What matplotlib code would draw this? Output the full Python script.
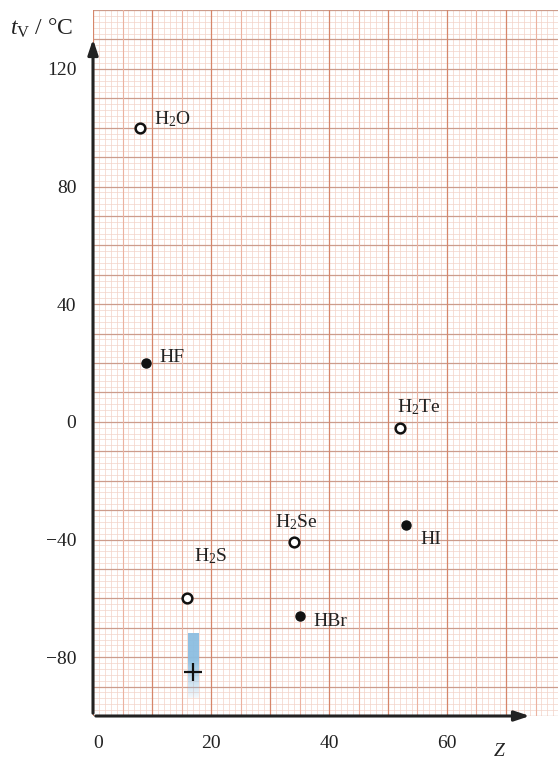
import numpy as np
import matplotlib
matplotlib.use('Agg')
import matplotlib.pyplot as plt

plt.rcParams['font.family'] = ['Liberation Serif', 'DejaVu Serif']
plt.rcParams['mathtext.fontset'] = 'custom'
plt.rcParams['mathtext.rm'] = 'Liberation Serif'
plt.rcParams['mathtext.it'] = 'Liberation Serif:italic'

# dane: Z (liczba atomowa) i temperatura wrzenia
open_names = ['H$_2$O', 'H$_2$S', 'H$_2$Se', 'H$_2$Te']
open_z = [8, 16, 34, 52]
open_t = [100, -60, -41, -2]

full_names = ['HF', 'HBr', 'HI']
full_z = [9, 35, 53]
full_t = [20, -66, -35]

# HCl - szacowany zakres
hcl_z = 17
hcl_range = [-72, -94]
hcl_t = -85

x_ticks = [0, 20, 40, 60]
y_ticks = [120, 80, 40, 0, -40, -80]

fig = plt.figure(figsize=(5.58, 7.61), dpi=100)
ax = fig.add_axes([93 / 558, 45 / 761, 465 / 558, 706 / 761])
ax.set_xlim(0, 465 / 5.9)
ax.set_ylim(-100, 140)
for s in ax.spines.values():
    s.set_visible(False)

# papier milimetrowy
for y in np.arange(-100, 141, 2):
    if y % 10 != 0:
        ax.axhline(y, color='#f1d5cb', lw=0.5, zorder=0)
for x in np.arange(0, 80, 1):
    if x % 5 != 0:
        ax.axvline(x, color='#f4d2c6', lw=0.5, zorder=0)
for y in np.arange(-100, 141, 10):
    ax.axhline(y, color='#cc9c8c', lw=0.9, zorder=1)
for x in np.arange(0, 80, 5):
    if x % 10 == 0:
        ax.axvline(x, color='#d6866a', lw=0.9, zorder=1)
    else:
        ax.axvline(x, color='#ecb2a0', lw=0.8, zorder=1)

# osie ze strzalkami
ax.annotate('', xy=(74.5, -100), xytext=(0, -100),
            arrowprops=dict(arrowstyle='-|>,head_length=0.9,head_width=0.3', color='#222222', lw=2.2),
            annotation_clip=False, zorder=5)
ax.annotate('', xy=(0, 131), xytext=(0, -100),
            arrowprops=dict(arrowstyle='-|>,head_length=0.9,head_width=0.3', color='#222222', lw=2.2),
            annotation_clip=False, zorder=5)

ax.set_xticks(x_ticks)
ax.set_xticklabels([str(v) for v in x_ticks])
ax.set_yticks(y_ticks)
ax.set_yticklabels(['\u2212' + str(-v) if v < 0 else str(v) for v in y_ticks])
ax.tick_params(length=0, labelsize=14, colors='#222222')
ax.tick_params(axis='x', pad=14)
ax.tick_params(axis='y', pad=12)
for lab in ax.get_xticklabels():
    lab.set_horizontalalignment('left' if lab.get_text() == '0' else 'center')

# pasek HCl
grad = np.zeros((100, 1, 4))
grad[:, 0, :3] = np.array([140, 190, 225]) / 255
grad[:, 0, 3] = np.concatenate([np.full(40, 0.95), np.linspace(0.95, 0.1, 60)])
ax.imshow(grad, extent=[hcl_z - 0.85, hcl_z + 0.85, hcl_range[1], hcl_range[0]],
          origin='upper', aspect='auto', zorder=2)
ax.set_xlim(0, 465 / 5.9)
ax.set_ylim(-100, 140)
ax.plot([hcl_z], [hcl_t], marker='+', ms=13, mew=1.6, color='#111111', zorder=4)

ax.plot(open_z, open_t, 'o', ms=7, mfc='white', mec='#111111', mew=1.8, ls='none', zorder=4)
ax.plot(full_z, full_t, 'o', ms=6.5, color='#111111', ls='none', zorder=4)

offs = {'H$_2$O': (2.3, 3, 'left'), 'H$_2$S': (1.2, 14.5, 'left'),
        'H$_2$Se': (-3.2, 7, 'left'), 'H$_2$Te': (-0.5, 7, 'left'),
        'HF': (2.3, 2, 'left'), 'HBr': (2.3, -2, 'left'), 'HI': (2.5, -5, 'left')}
for n, x, y in zip(open_names + full_names, open_z + full_z, open_t + full_t):
    dx, dy, ha = offs[n]
    ax.text(x + dx, y + dy, n, fontsize=14, ha=ha, va='center', color='#222222', zorder=6)

fig.text(10 / 558, 1 - 28 / 761, r'$t_{\mathrm{V}}$ / °C', fontsize=17, va='center', ha='left', color='#222222')
fig.text(500 / 558, 1 / 761, r'$Z$', fontsize=14, va='bottom', ha='center', color='#222222')

fig.savefig('out.png', dpi=100)
